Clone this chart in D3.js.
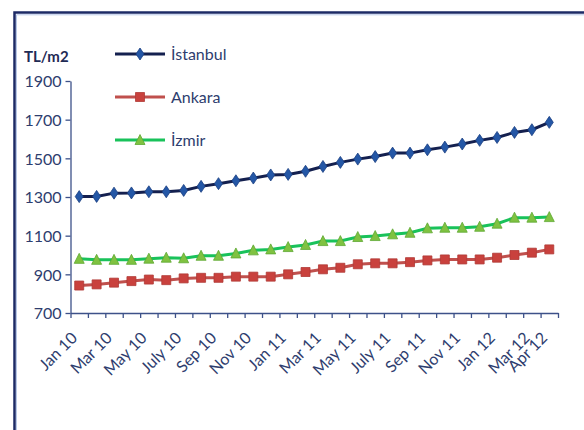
<!DOCTYPE html>
<html><head><meta charset="utf-8">
<script src="https://cdn.jsdelivr.net/npm/d3@7"></script>
<style>
html,body{margin:0;padding:0;background:#fff;}
svg{display:block;}
text{font-family:Lato,"Open Sans",sans-serif;}
</style></head>
<body><svg id="c" width="584" height="430"></svg>
<script>
const categories = ["Jan 10","Feb 10","Mar 10","Apr 10","May 10","June 10","July 10","Aug 10","Sep 10","Oct 10","Nov 10","Dec 10",
  "Jan 11","Feb 11","Mar 11","Apr 11","May 11","June 11","July 11","Aug 11","Sep 11","Oct 11","Nov 11","Dec 11",
  "Jan 12","Feb 12","Mar 12","Apr 12"];
const shownLabels = ["Jan 10","Mar 10","May 10","July 10","Sep 10","Nov 10","Jan 11","Mar 11","May 11","July 11","Sep 11","Nov 11","Jan 12","Mar 12","Apr 12"];
const istanbul = [1302,1303,1320,1321,1327,1327,1334,1355,1369,1384,1398,1414,1417,1433,1458,1479,1496,1509,1527,1527,1544,1558,1574,1593,1608,1634,1648,1686];
const ankara   = [842,848,857,865,873,870,879,882,882,888,888,888,900,912,926,934,952,957,957,963,972,977,977,977,986,1000,1012,1029];
const izmir    = [980,975,975,975,981,986,983,996,996,1008,1024,1029,1041,1052,1072,1072,1093,1098,1107,1115,1138,1141,1141,1146,1162,1193,1193,1196];
const yTicks = [700,900,1100,1300,1500,1700,1900];
const seriesNames = ["İstanbul","Ankara","İzmir"];

const svg = d3.select("#c");
// frame
svg.append("rect").attr("x",14.5).attr("y",12.5).attr("width",620).attr("height",460)
  .attr("fill","none").attr("stroke","#1c2a66").attr("stroke-width",2.5);
svg.append("path").attr("d","M16.5,640V14.8H640").attr("fill","none").attr("stroke","#b8c8e8").attr("stroke-width",1);

const L=70.5, R=558, T=81, B=313;
const x = d3.scaleBand().domain(categories).range([L,R]).padding(0);
const y = d3.scaleLinear().domain([700,1900]).range([B,T]);
const xEdge = d3.scaleLinear().domain([0,categories.length]).range([L,R]);
const axisCol = "#3d5189";
const textCol = "#2e3d6e";

// y axis
const ya = svg.append("g").attr("transform",`translate(${L},0)`)
  .call(d3.axisLeft(y).tickValues(yTicks).tickSize(5).tickSizeOuter(0).tickFormat(d3.format("d")));
ya.select(".domain").attr("stroke",axisCol).attr("stroke-width",1.3);
ya.selectAll(".tick line").attr("stroke",axisCol).attr("stroke-width",1.3);
ya.selectAll(".tick text").attr("fill",textCol).attr("font-size",16).attr("x",-9).attr("dy","0.36em");

// x axis ticks at category edges
const xa = svg.append("g").attr("transform",`translate(0,${B})`)
  .call(d3.axisBottom(xEdge).tickValues(d3.range(categories.length+1)).tickSize(5).tickSizeOuter(0).tickFormat(""));
xa.select(".domain").attr("stroke",axisCol).attr("stroke-width",1.3);
xa.selectAll(".tick line").attr("stroke",axisCol).attr("stroke-width",1.3);

// x labels
const xl = svg.append("g").attr("transform",`translate(0,${B})`)
  .call(d3.axisBottom(x).tickValues(shownLabels).tickSize(0));
xl.select(".domain").remove();
xl.selectAll(".tick text").attr("fill",textCol).attr("font-size",16)
  .attr("text-anchor","end").attr("dy",0).attr("y",0)
  .attr("transform","translate(-1,26) rotate(-45)");

// axis title
svg.append("text").attr("x",24).attr("y",62).attr("font-size",15).attr("font-weight","bold")
  .attr("fill","#1f2b55").text("TL/m2");

const cx = (d,i)=> x(categories[i]) + x.bandwidth()/2;
const line = d3.line().x(cx).y(d=>y(d));

const series = [
  {name:seriesNames[0], data:istanbul, line:"#14204f", fill:"#2457a6", stroke:"#1b3f82", shape:"diamond"},
  {name:seriesNames[1], data:ankara, line:"#c0504d", fill:"#c9413d", stroke:"#b03a36", shape:"square"},
  {name:seriesNames[2], data:izmir, line:"#19c25a", fill:"#7fc241", stroke:"#5ea832", shape:"triangle"}
];
function markerPath(shape){
  if(shape==="diamond") return "M0,-6L4,0L0,6L-4,0Z";
  if(shape==="square") return "M-4.5,-4.5H4.5V4.5H-4.5Z";
  return "M0,-5.5L5,4.5H-5Z";
}
series.forEach(s=>{
  svg.append("path").datum(s.data).attr("d",line).attr("fill","none")
    .attr("stroke",s.line).attr("stroke-width",3);
  svg.append("g").selectAll("path").data(s.data).join("path")
    .attr("d",markerPath(s.shape))
    .attr("transform",(d,i)=>`translate(${cx(d,i)},${y(d)})`)
    .attr("fill",s.fill).attr("stroke",s.stroke).attr("stroke-width",0.8);
});

// legend
const lg = svg.append("g");
series.forEach((s,i)=>{
  const ly = 54 + i*43;
  lg.append("line").attr("x1",115).attr("x2",165).attr("y1",ly).attr("y2",ly)
    .attr("stroke",s.line).attr("stroke-width",3);
  lg.append("path").attr("d",markerPath(s.shape)).attr("transform",`translate(140,${ly})`)
    .attr("fill",s.fill).attr("stroke",s.stroke).attr("stroke-width",0.8);
  lg.append("text").attr("x",171).attr("y",ly).attr("dy","0.36em").attr("font-size",16)
    .attr("fill",textCol).text(s.name);
});
</script></body></html>
